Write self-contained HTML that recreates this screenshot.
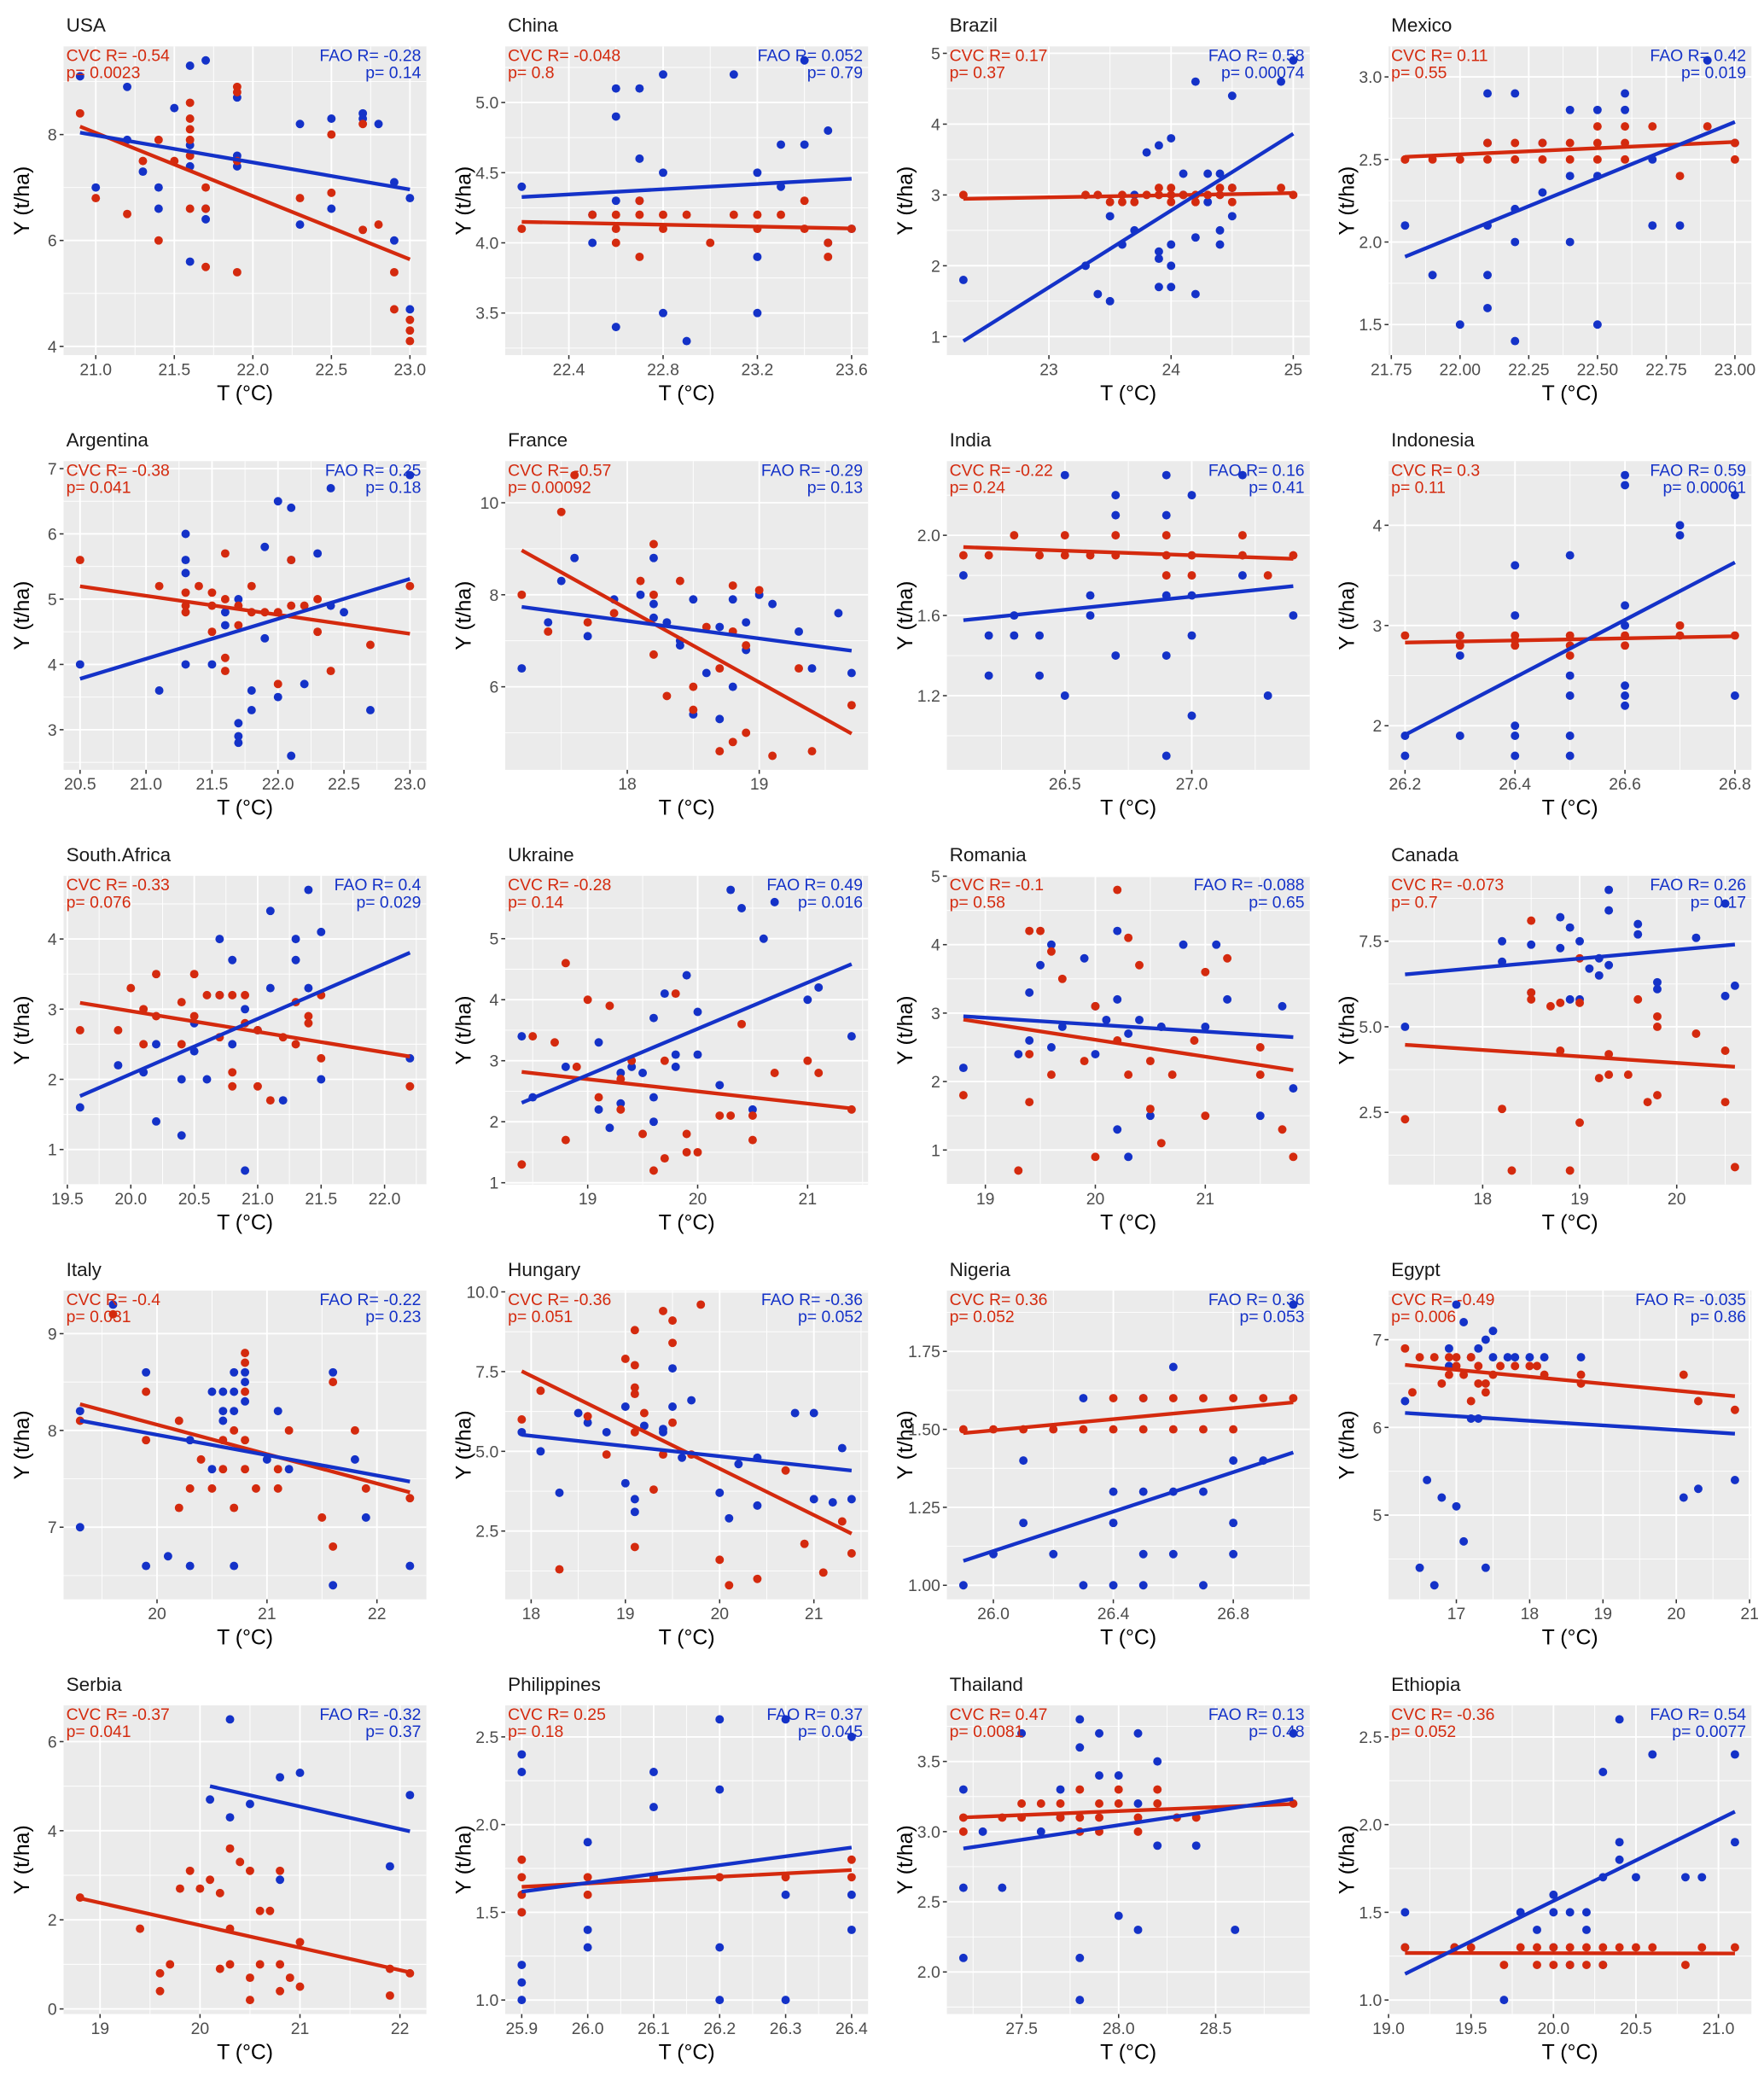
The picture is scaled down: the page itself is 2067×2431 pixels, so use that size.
<!DOCTYPE html>
<html><head><meta charset="utf-8">
<style>
html,body{margin:0;padding:0;background:#fff;}
svg{display:block;font-family:"Liberation Sans",Arial,sans-serif;}
</style></head>
<body>
<svg id="chart" width="2067" height="2431" viewBox="0 0 1332 1566" preserveAspectRatio="none" xmlns="http://www.w3.org/2000/svg"></svg>
<script>
const countries=["USA","China","Brazil","Mexico","Argentina","France","India","Indonesia","South.Africa","Ukraine","Romania","Canada","Italy","Hungary","Nigeria","Egypt","Serbia","Philippines","Thailand","Ethiopia"];
const cvcR=["-0.54","-0.048","0.17","0.11","-0.38","-0.57","-0.22","0.3","-0.33","-0.28","-0.1","-0.073","-0.4","-0.36","0.36","-0.49","-0.37","0.25","0.47","-0.36"];
const cvcP=["0.0023","0.8","0.37","0.55","0.041","0.00092","0.24","0.11","0.076","0.14","0.58","0.7","0.031","0.051","0.052","0.006","0.041","0.18","0.0081","0.052"];
const faoR=["-0.28","0.052","0.58","0.42","0.25","-0.29","0.16","0.59","0.4","0.49","-0.088","0.26","-0.22","-0.36","0.36","-0.035","-0.32","0.37","0.13","0.54"];
const faoP=["0.14","0.79","0.00074","0.019","0.18","0.13","0.41","0.00061","0.029","0.016","0.65","0.17","0.23","0.052","0.053","0.86","0.37","0.045","0.48","0.0077"];
const xTicks=[[21,21.5,22,22.5,23],[22.4,22.8,23.2,23.6],[23,24,25],[21.75,22,22.25,22.5,22.75,23],[20.5,21,21.5,22,22.5,23],[18,19],[26.5,27],[26.2,26.4,26.6,26.8],[19.5,20,20.5,21,21.5,22],[19,20,21],[19,20,21],[18,19,20],[20,21,22],[18,19,20,21],[26.0,26.4,26.8],[17,18,19,20,21],[19,20,21,22],[25.9,26.0,26.1,26.2,26.3,26.4],[27.5,28,28.5],[19,19.5,20,20.5,21]];
const xLabels=[["21.0","21.5","22.0","22.5","23.0"],["22.4","22.8","23.2","23.6"],["23","24","25"],["21.75","22.00","22.25","22.50","22.75","23.00"],["20.5","21.0","21.5","22.0","22.5","23.0"],["18","19"],["26.5","27.0"],["26.2","26.4","26.6","26.8"],["19.5","20.0","20.5","21.0","21.5","22.0"],["19","20","21"],["19","20","21"],["18","19","20"],["20","21","22"],["18","19","20","21"],["26.0","26.4","26.8"],["17","18","19","20","21"],["19","20","21","22"],["25.9","26.0","26.1","26.2","26.3","26.4"],["27.5","28.0","28.5"],["19.0","19.5","20.0","20.5","21.0"]];
const yTicks=[[4,6,8],[3.5,4,4.5,5],[1,2,3,4,5],[1.5,2,2.5,3],[3,4,5,6,7],[6,8,10],[1.2,1.6,2.0],[2,3,4],[1,2,3,4],[1,2,3,4,5],[1,2,3,4,5],[2.5,5,7.5],[7,8,9],[2.5,5,7.5,10],[1,1.25,1.5,1.75],[5,6,7],[0,2,4,6],[1,1.5,2,2.5],[2,2.5,3,3.5],[1,1.5,2,2.5]];
const yLabels=[["4","6","8"],["3.5","4.0","4.5","5.0"],["1","2","3","4","5"],["1.5","2.0","2.5","3.0"],["3","4","5","6","7"],["6","8","10"],["1.2","1.6","2.0"],["2","3","4"],["1","2","3","4"],["1","2","3","4","5"],["1","2","3","4","5"],["2.5","5.0","7.5"],["7","8","9"],["2.5","5.0","7.5","10.0"],["1.00","1.25","1.50","1.75"],["5","6","7"],["0","2","4","6"],["1.0","1.5","2.0","2.5"],["2.0","2.5","3.0","3.5"],["1.0","1.5","2.0","2.5"]];
const redPts=[
[[20.9,8.4],[21.0,6.8],[21.2,6.5],[21.3,7.5],[21.4,7.9],[21.4,6.0],[21.5,7.5],[21.6,8.6],[21.6,8.3],[21.6,8.1],[21.6,7.9],[21.6,7.6],[21.6,6.6],[21.7,7.0],[21.7,6.6],[21.7,5.5],[21.9,8.9],[21.9,5.4],[21.9,7.5],[22.3,6.8],[22.5,8.0],[22.5,6.9],[22.7,8.2],[22.7,6.2],[22.8,6.3],[22.9,5.4],[22.9,4.7],[23.0,4.1],[23.0,4.3],[23.0,4.5],[21.9,8.8]],
[[22.2,4.1],[22.5,4.2],[22.6,4.2],[22.6,4.1],[22.7,4.2],[22.7,3.9],[22.7,4.3],[22.8,4.2],[22.8,4.1],[22.9,4.2],[23.0,4.0],[23.2,4.2],[23.2,4.1],[23.3,4.2],[23.4,4.3],[23.4,4.1],[23.5,4.0],[23.5,3.9],[23.6,4.1],[22.6,4.0],[23.1,4.2]],
[[22.3,3.0],[23.3,3.0],[23.4,3.0],[23.5,2.9],[23.6,3.0],[23.7,2.9],[23.8,3.0],[23.9,3.0],[23.9,3.1],[24.0,2.9],[24.0,3.1],[24.1,3.0],[24.2,3.0],[24.2,2.9],[24.3,3.0],[24.4,3.1],[24.4,3.0],[24.5,2.9],[24.5,3.1],[24.9,3.1],[25.0,3.0],[24.0,3.0],[23.6,2.9]],
[[21.8,2.5],[21.9,2.5],[22.0,2.5],[22.1,2.6],[22.1,2.5],[22.2,2.6],[22.2,2.5],[22.3,2.6],[22.3,2.5],[22.4,2.6],[22.4,2.5],[22.5,2.7],[22.5,2.6],[22.5,2.5],[22.6,2.7],[22.6,2.6],[22.7,2.7],[22.8,2.4],[22.9,2.7],[23.0,2.6],[23.0,2.5],[21.8,2.5],[22.6,2.5]],
[[20.5,5.6],[21.1,5.2],[21.3,5.1],[21.3,4.9],[21.3,4.8],[21.4,5.2],[21.5,4.5],[21.5,5.1],[21.6,5.7],[21.6,5.0],[21.6,4.1],[21.6,3.9],[21.7,4.9],[21.7,4.6],[21.8,5.2],[21.8,4.8],[21.9,4.8],[22.0,3.7],[22.0,4.8],[22.1,5.6],[22.1,4.9],[22.2,4.9],[22.3,5.0],[22.3,4.5],[22.4,3.9],[22.7,4.3],[23.0,5.2],[21.5,4.9]],
[[17.2,8.0],[17.4,7.2],[17.5,9.8],[17.6,10.6],[17.7,7.4],[17.9,7.6],[18.1,8.3],[18.2,9.1],[18.2,8.0],[18.2,6.7],[18.3,5.8],[18.4,8.3],[18.5,6.0],[18.5,5.5],[18.6,7.3],[18.7,6.4],[18.7,4.6],[18.8,8.2],[18.8,7.2],[18.8,4.8],[18.9,6.9],[18.9,5.0],[19.0,8.1],[19.1,4.5],[19.3,6.4],[19.4,4.6],[19.7,5.6]],
[[26.1,1.9],[26.2,1.9],[26.3,2.0],[26.4,1.9],[26.5,2.0],[26.5,1.9],[26.6,1.9],[26.7,2.0],[26.7,1.9],[26.9,2.0],[26.9,1.9],[26.9,1.8],[27.0,1.9],[27.0,1.8],[27.2,2.0],[27.2,1.9],[27.3,1.8],[27.4,1.9]],
[[26.2,2.9],[26.3,2.9],[26.3,2.8],[26.4,2.9],[26.4,2.8],[26.5,2.9],[26.5,2.8],[26.5,2.7],[26.6,2.9],[26.6,2.8],[26.7,3.0],[26.7,2.9],[26.8,2.9],[26.4,2.85]],
[[19.6,2.7],[19.9,2.7],[20.0,3.3],[20.1,2.5],[20.1,3.0],[20.2,2.9],[20.2,3.5],[20.4,3.1],[20.4,2.5],[20.5,3.5],[20.6,3.2],[20.7,3.2],[20.7,2.6],[20.8,3.2],[20.8,2.1],[20.8,1.9],[20.9,3.2],[20.9,2.8],[21.0,2.7],[21.0,1.9],[21.1,1.7],[21.2,2.6],[21.3,3.1],[21.3,2.5],[21.4,2.9],[21.4,2.8],[21.5,3.2],[21.5,2.3],[22.2,1.9],[20.5,2.9]],
[[18.4,1.3],[18.5,3.4],[18.7,3.3],[18.8,4.6],[18.8,1.7],[18.9,2.9],[19.0,4.0],[19.1,2.4],[19.2,3.9],[19.3,2.7],[19.3,2.2],[19.4,3.0],[19.5,1.8],[19.6,1.2],[19.7,1.4],[19.7,3.0],[19.8,4.1],[19.9,1.8],[20.0,1.5],[20.2,2.1],[20.3,2.1],[20.4,3.6],[20.5,2.1],[20.5,1.7],[20.7,2.8],[21.0,3.0],[21.1,2.8],[21.4,2.2],[19.9,1.5]],
[[18.8,1.8],[19.3,0.7],[19.4,1.7],[19.4,4.2],[19.5,4.2],[19.6,3.9],[19.6,2.1],[19.7,3.5],[19.9,2.3],[20.0,0.9],[20.0,3.1],[20.2,4.8],[20.2,2.6],[20.3,4.1],[20.3,2.1],[20.4,3.7],[20.5,2.3],[20.5,1.6],[20.6,1.1],[20.7,2.1],[20.9,2.6],[21.0,3.6],[21.0,1.5],[21.2,3.8],[21.5,2.5],[21.5,2.1],[21.7,1.3],[21.8,0.9],[19.4,2.4]],
[[17.2,2.3],[18.2,2.6],[18.3,0.8],[18.5,8.1],[18.5,5.8],[18.7,5.6],[18.8,5.7],[18.8,4.3],[18.9,0.8],[19.0,2.2],[19.0,5.7],[19.2,3.5],[19.3,3.6],[19.3,4.2],[19.5,3.6],[19.6,5.8],[19.7,2.8],[19.8,5.3],[19.8,3.0],[19.8,5.0],[20.2,4.8],[20.5,4.3],[20.5,2.8],[20.6,0.9],[18.5,6.0],[19.0,7.0]],
[[19.3,8.1],[19.6,9.2],[19.9,8.4],[19.9,7.9],[20.2,8.1],[20.2,7.2],[20.3,7.4],[20.4,7.7],[20.5,7.4],[20.6,7.9],[20.6,7.6],[20.7,8.0],[20.7,7.2],[20.8,8.8],[20.8,8.7],[20.8,8.4],[20.8,7.9],[20.8,7.6],[20.9,7.4],[21.1,7.6],[21.1,7.4],[21.2,8.0],[21.5,7.1],[21.6,8.5],[21.6,6.8],[21.8,8.0],[22.3,7.3],[21.9,7.4]],
[[17.9,6.0],[18.1,6.9],[18.3,1.3],[18.6,6.1],[18.8,4.9],[19.0,7.9],[19.1,8.8],[19.1,7.7],[19.1,6.8],[19.1,5.6],[19.1,2.0],[19.2,6.2],[19.3,3.8],[19.4,4.9],[19.4,9.4],[19.5,9.1],[19.5,8.4],[19.5,5.9],[19.7,4.9],[19.8,9.6],[20.0,1.6],[20.1,0.8],[20.4,1.0],[20.7,4.4],[20.9,2.1],[21.1,1.2],[21.3,2.8],[21.4,1.8],[19.1,7.0]],
[[25.9,1.5],[26.0,1.5],[26.1,1.5],[26.2,1.5],[26.3,1.5],[26.4,1.6],[26.5,1.6],[26.5,1.5],[26.6,1.6],[26.7,1.6],[26.7,1.5],[26.8,1.6],[26.8,1.5],[26.9,1.6],[27.0,1.6],[26.4,1.5],[26.6,1.5]],
[[16.3,6.9],[16.4,6.4],[16.5,6.8],[16.7,6.8],[16.8,6.5],[16.9,6.8],[17.0,6.7],[17.0,6.8],[17.1,6.6],[17.2,6.3],[17.3,6.5],[17.3,6.7],[17.4,6.5],[17.4,6.4],[17.5,6.6],[17.6,6.7],[17.8,6.7],[18.0,6.7],[18.2,6.6],[18.7,6.6],[18.7,6.5],[20.1,6.6],[20.3,6.3],[20.8,6.2],[17.2,6.8],[18.1,6.7],[16.9,6.6]],
[[18.8,2.5],[19.4,1.8],[19.6,0.8],[19.6,0.4],[19.7,1.0],[19.8,2.7],[19.9,3.1],[20.0,2.7],[20.1,2.9],[20.2,2.6],[20.2,0.9],[20.3,3.6],[20.3,1.8],[20.3,1.0],[20.4,3.3],[20.5,3.1],[20.5,0.7],[20.5,0.2],[20.6,1.0],[20.6,2.2],[20.7,2.2],[20.8,0.4],[20.8,1.0],[20.8,3.1],[20.9,0.7],[21.0,0.5],[21.0,1.5],[21.9,0.3],[21.9,0.9],[22.1,0.8]],
[[25.9,1.8],[25.9,1.7],[25.9,1.6],[26.0,1.7],[26.0,1.6],[26.1,1.7],[26.2,1.7],[26.3,1.7],[26.4,1.8],[26.4,1.7],[25.9,1.5]],
[[27.2,3.1],[27.2,3.0],[27.4,3.1],[27.5,3.1],[27.5,3.2],[27.6,3.2],[27.7,3.1],[27.7,3.2],[27.8,3.3],[27.8,3.1],[27.8,3.0],[27.9,3.2],[27.9,3.1],[28.0,3.2],[28.0,3.3],[28.1,3.1],[28.1,3.0],[28.2,3.2],[28.2,3.3],[28.3,3.1],[28.4,3.1],[28.9,3.2],[27.9,3.0]],
[[19.1,1.3],[19.4,1.3],[19.5,1.3],[19.7,1.2],[19.8,1.3],[19.9,1.2],[19.9,1.3],[20.0,1.3],[20.0,1.2],[20.1,1.3],[20.1,1.2],[20.2,1.3],[20.2,1.2],[20.3,1.3],[20.4,1.3],[20.5,1.3],[20.6,1.3],[20.8,1.2],[20.9,1.3],[21.1,1.3],[20.3,1.2]]
];
const bluePts=[
[[20.9,9.1],[21.0,7.0],[21.2,8.9],[21.2,7.9],[21.3,7.3],[21.4,7.0],[21.4,6.6],[21.5,8.5],[21.6,9.3],[21.6,7.8],[21.6,7.4],[21.6,5.6],[21.7,9.4],[21.7,6.4],[21.7,6.6],[21.9,7.6],[21.9,7.4],[21.9,8.7],[22.3,8.2],[22.3,6.3],[22.5,8.3],[22.5,6.6],[22.7,8.4],[22.7,8.3],[22.8,8.2],[22.9,7.1],[22.9,6.0],[23.0,6.8],[23.0,4.7]],
[[22.2,4.4],[22.5,4.0],[22.6,5.1],[22.6,4.9],[22.6,4.3],[22.6,3.4],[22.7,5.1],[22.7,4.6],[22.8,5.2],[22.8,4.5],[22.8,3.5],[22.9,3.3],[23.1,5.2],[23.2,4.5],[23.2,3.9],[23.2,3.5],[23.3,4.7],[23.3,4.4],[23.4,4.7],[23.4,5.3],[23.5,4.8],[23.5,4.0],[23.6,4.1],[22.7,4.3],[22.5,4.2]],
[[22.3,1.8],[23.3,2.0],[23.4,1.6],[23.5,1.5],[23.5,2.7],[23.6,2.3],[23.7,3.0],[23.8,3.6],[23.9,3.7],[24.0,3.8],[23.9,2.2],[23.9,2.1],[24.0,1.7],[23.9,1.7],[24.0,2.3],[24.1,3.3],[24.1,3.0],[24.2,4.6],[24.2,2.4],[24.2,1.6],[24.3,3.3],[24.3,2.9],[24.4,3.3],[24.4,2.5],[24.4,2.3],[24.5,2.7],[24.5,4.4],[24.5,3.1],[24.9,4.6],[25.0,4.9],[24.0,2.0],[23.7,2.5]],
[[21.8,2.1],[21.9,1.8],[22.0,1.5],[22.1,2.9],[22.1,1.8],[22.1,1.6],[22.1,2.1],[22.2,2.9],[22.2,2.2],[22.2,1.4],[22.2,2.0],[22.3,2.6],[22.3,2.3],[22.4,2.8],[22.4,2.4],[22.4,2.0],[22.5,2.8],[22.5,2.4],[22.5,1.5],[22.6,2.9],[22.6,2.8],[22.7,2.5],[22.7,2.1],[22.8,2.1],[22.9,3.1],[23.0,2.6],[22.1,2.6]],
[[20.5,4.0],[21.1,3.6],[21.3,6.0],[21.3,5.6],[21.3,5.4],[21.3,4.0],[21.5,4.0],[21.6,4.8],[21.6,4.6],[21.7,3.1],[21.7,2.9],[21.7,2.8],[21.7,5.0],[21.8,3.6],[21.8,3.3],[21.9,4.4],[21.9,5.8],[22.0,6.5],[22.0,3.5],[22.1,5.6],[22.1,6.4],[22.1,2.6],[22.2,3.7],[22.3,5.7],[22.4,4.9],[22.4,6.7],[22.5,4.8],[22.7,3.3],[23.0,6.9]],
[[17.2,6.4],[17.4,7.4],[17.5,8.3],[17.6,8.8],[17.7,7.1],[17.9,7.9],[18.1,8.0],[18.2,8.8],[18.2,7.8],[18.2,7.5],[18.3,7.4],[18.4,7.0],[18.4,6.9],[18.5,7.9],[18.5,5.4],[18.6,6.3],[18.7,7.3],[18.7,5.3],[18.8,7.9],[18.8,6.0],[18.9,7.4],[18.9,6.8],[19.0,8.0],[19.1,7.8],[19.3,7.2],[19.4,6.4],[19.6,7.6],[19.7,6.3]],
[[26.1,1.8],[26.2,1.5],[26.2,1.3],[26.3,1.6],[26.3,1.5],[26.4,1.5],[26.4,1.3],[26.5,2.3],[26.5,1.2],[26.6,1.7],[26.6,1.6],[26.7,2.2],[26.7,2.1],[26.7,1.4],[26.9,2.3],[26.9,2.1],[26.9,1.7],[26.9,1.4],[26.9,0.9],[27.0,2.2],[27.0,1.7],[27.0,1.5],[27.0,1.1],[27.2,2.3],[27.2,1.8],[27.3,1.2],[27.4,1.6]],
[[26.2,1.9],[26.2,1.7],[26.3,2.9],[26.3,2.7],[26.3,1.9],[26.4,3.6],[26.4,3.1],[26.4,2.0],[26.4,1.9],[26.4,1.7],[26.5,3.7],[26.5,2.5],[26.5,2.3],[26.5,1.9],[26.5,1.7],[26.6,4.5],[26.6,4.4],[26.6,3.2],[26.6,3.0],[26.6,2.4],[26.6,2.3],[26.6,2.2],[26.7,4.0],[26.7,3.9],[26.8,4.3],[26.8,2.3]],
[[19.6,1.6],[19.9,2.2],[20.1,2.1],[20.2,1.4],[20.4,2.0],[20.4,1.2],[20.5,2.4],[20.6,2.0],[20.7,4.0],[20.7,3.2],[20.8,3.7],[20.8,2.5],[20.9,3.0],[20.9,0.7],[21.0,2.7],[21.1,4.4],[21.1,3.3],[21.2,1.7],[21.3,4.0],[21.3,3.7],[21.4,4.7],[21.4,3.3],[21.5,4.1],[21.5,2.0],[22.2,2.3],[20.2,2.5],[20.5,2.8]],
[[18.4,3.4],[18.5,2.4],[18.8,2.9],[19.1,3.3],[19.1,2.2],[19.2,1.9],[19.3,2.3],[19.3,2.8],[19.4,2.9],[19.5,2.8],[19.6,2.4],[19.6,3.7],[19.7,4.1],[19.8,2.9],[19.9,4.4],[20.0,3.1],[20.2,2.6],[20.3,5.8],[20.4,5.5],[20.5,2.2],[20.6,5.0],[20.7,5.6],[21.0,4.0],[21.1,4.2],[21.4,3.4],[19.6,2.0],[19.8,3.1],[20.0,3.8]],
[[18.8,2.2],[19.3,2.4],[19.4,2.6],[19.4,3.3],[19.5,3.7],[19.6,4.0],[19.6,2.5],[19.7,2.8],[19.9,3.8],[20.0,2.4],[20.0,3.1],[20.1,2.9],[20.2,3.2],[20.2,4.2],[20.2,1.3],[20.3,2.7],[20.3,0.9],[20.4,2.9],[20.5,1.5],[20.6,2.8],[20.6,2.8],[20.8,4.0],[21.0,2.8],[21.1,4.0],[21.2,3.2],[21.5,1.5],[21.7,3.1],[21.8,1.9]],
[[17.2,5.0],[18.2,6.9],[18.5,7.4],[18.5,6.0],[18.8,8.2],[18.8,7.3],[18.9,5.8],[18.9,7.9],[19.0,7.5],[19.0,5.8],[19.1,6.7],[19.2,7.0],[19.2,6.5],[19.3,8.4],[19.3,6.8],[19.3,9.0],[19.6,8.0],[19.6,7.7],[19.8,6.1],[19.8,6.3],[20.2,7.6],[20.5,5.9],[20.5,8.6],[20.6,6.2],[18.2,7.5]],
[[19.3,8.2],[19.3,7.0],[19.6,9.3],[19.9,8.6],[19.9,6.6],[20.1,6.7],[20.3,6.6],[20.3,7.9],[20.5,8.4],[20.5,7.6],[20.6,8.4],[20.6,8.2],[20.6,8.1],[20.7,8.4],[20.7,8.2],[20.7,6.6],[20.7,8.6],[20.8,8.6],[20.8,8.5],[20.8,8.3],[21.0,7.7],[21.1,8.2],[21.2,7.6],[21.6,8.6],[21.6,6.4],[21.8,7.7],[21.9,7.1],[22.3,6.6]],
[[17.9,5.6],[18.1,5.0],[18.3,3.7],[18.5,6.2],[18.6,5.9],[18.8,5.6],[19.0,4.0],[19.0,6.4],[19.1,3.1],[19.1,3.5],[19.2,5.8],[19.4,5.6],[19.4,5.7],[19.5,7.6],[19.5,6.4],[19.7,6.6],[20.0,3.7],[20.1,2.9],[20.2,4.6],[20.4,3.3],[20.4,4.8],[20.8,6.2],[21.0,6.2],[21.0,3.5],[21.2,3.4],[21.3,5.1],[21.4,3.5],[19.6,4.8]],
[[25.9,1.0],[26.0,1.1],[26.1,1.4],[26.1,1.2],[26.2,1.1],[26.3,1.6],[26.4,1.3],[26.4,1.2],[26.4,1.0],[26.5,1.6],[26.5,1.3],[26.5,1.1],[26.5,1.0],[26.6,1.7],[26.6,1.3],[26.6,1.1],[26.7,1.3],[26.7,1.0],[26.8,1.4],[26.8,1.2],[26.8,1.1],[26.9,1.4],[27.0,1.9],[26.3,1.0]],
[[16.3,6.3],[16.5,4.4],[16.6,5.4],[16.7,4.2],[16.8,5.2],[16.9,6.9],[16.9,6.7],[17.0,5.1],[17.0,7.4],[17.1,4.7],[17.1,7.2],[17.2,6.8],[17.2,6.1],[17.3,6.1],[17.4,7.0],[17.4,4.4],[17.5,7.1],[17.5,6.8],[17.7,6.8],[17.8,6.8],[18.0,6.8],[18.2,6.8],[18.7,6.8],[20.1,5.2],[20.3,5.3],[20.8,5.4],[17.3,6.9]],
[[20.1,4.7],[20.3,6.5],[20.3,4.3],[20.5,4.6],[20.8,5.2],[20.8,2.9],[21.0,5.3],[21.9,3.2],[22.1,4.8]],
[[25.9,2.4],[25.9,2.3],[25.9,1.5],[25.9,1.2],[25.9,1.1],[25.9,1.0],[26.0,1.9],[26.0,1.4],[26.0,1.3],[26.1,2.3],[26.1,2.1],[26.1,1.7],[26.2,2.6],[26.2,2.2],[26.2,1.3],[26.2,1.0],[26.3,2.6],[26.3,1.0],[26.3,1.6],[26.4,2.5],[26.4,1.6],[26.4,1.4]],
[[27.2,3.3],[27.2,2.6],[27.2,2.1],[27.4,2.6],[27.5,3.7],[27.6,3.0],[27.7,3.3],[27.7,3.1],[27.8,3.8],[27.8,3.6],[27.8,2.1],[27.8,1.8],[27.9,3.7],[27.9,3.4],[28.0,3.4],[28.0,2.4],[28.1,3.7],[28.1,3.2],[28.1,2.3],[28.2,3.5],[28.2,2.9],[28.4,2.9],[28.6,2.3],[28.9,3.7],[27.3,3.0]],
[[19.1,1.5],[19.1,1.3],[19.4,1.3],[19.7,1.0],[19.8,1.5],[19.9,1.4],[20.0,1.6],[20.0,1.5],[20.0,1.3],[20.1,1.5],[20.1,1.2],[20.2,1.4],[20.2,1.5],[20.3,2.3],[20.3,1.7],[20.3,1.2],[20.4,2.6],[20.4,1.8],[20.4,1.9],[20.5,1.7],[20.6,2.4],[20.8,1.7],[20.9,1.7],[21.1,2.4],[21.1,1.9]]
];

const NS="http://www.w3.org/2000/svg";
const svg=document.getElementById('chart');
const RED="#d42a0e", BLUE="#1432c8";
function mk(tag,attrs,parent){const e=document.createElementNS(NS,tag);for(const k in attrs)e.setAttribute(k,attrs[k]);(parent||svg).appendChild(e);return e;}
function fit(p){const n=p.length;let sx=0,sy=0,sxx=0,sxy=0;p.forEach(([x,y])=>{sx+=x;sy+=y;sxx+=x*x;sxy+=x*y;});const b=(n*sxy-sx*sy)/(n*sxx-sx*sx);const a=(sy-b*sx)/n;const xs=p.map(q=>q[0]);return {a,b,x0:Math.min(...xs),x1:Math.max(...xs)};}

countries.forEach((name,i)=>{
  const col=i%4,row=Math.floor(i/4);
  const cx=col*333.5,L=cx+48,W=274,T=35+row*313,H=233;
  const g=mk('g',{});
  
  
  const all=redPts[i].concat(bluePts[i]);
  const rf=fit(redPts[i]),bf=fit(bluePts[i]);
  const xs=all.map(p=>p[0]),ys=all.map(p=>p[1]);
  [rf,bf].forEach(f=>{ys.push(f.a+f.b*f.x0,f.a+f.b*f.x1);});
  let xmin=Math.min(...xs),xmax=Math.max(...xs),ymin=Math.min(...ys),ymax=Math.max(...ys);
  const ex=(xmax-xmin)*0.05,ey=(ymax-ymin)*0.05;xmin-=ex;xmax+=ex;ymin-=ey;ymax+=ey;
  const X=v=>L+(v-xmin)/(xmax-xmin)*W, Y=v=>T+H-(v-ymin)/(ymax-ymin)*H;
  const bg=mk('rect',{x:L,y:T,width:W,height:H,fill:'#ebebeb'},g);
  
  
  const xt=xTicks[i],yt=yTicks[i];
  const xs2=xt[1]-xt[0],ys2=yt[1]-yt[0];
  for(let v=xt[0]-xs2/2;v<=xmax;v+=xs2){if(v>=xmin)mk('line',{x1:X(v),x2:X(v),y1:T,y2:T+H,stroke:'#fff','stroke-width':0.6},g);}
  for(let v=yt[0]-ys2/2;v<=ymax;v+=ys2){if(v>=ymin)mk('line',{x1:L,x2:L+W,y1:Y(v),y2:Y(v),stroke:'#fff','stroke-width':0.6},g);}
  xt.forEach((v,k)=>{const px=X(v);
    mk('line',{x1:px,x2:px,y1:T,y2:T+H,stroke:'#fff','stroke-width':1.2},g);
    mk('line',{x1:px,x2:px,y1:T+H,y2:T+H+3,stroke:'#333','stroke-width':1},g);
    const t=mk('text',{x:px,y:T+H+15,'text-anchor':'middle','font-size':12.5,fill:'#4d4d4d'},g);t.textContent=xLabels[i][k];
    
    });
  yt.forEach((v,k)=>{const py=Y(v);
    mk('line',{x1:L,x2:L+W,y1:py,y2:py,stroke:'#fff','stroke-width':1.2},g);
    mk('line',{x1:L-3,x2:L,y1:py,y2:py,stroke:'#333','stroke-width':1},g);
    const t=mk('text',{x:L-5,y:py+4.5,'text-anchor':'end','font-size':12.5,fill:'#4d4d4d'},g);t.textContent=yLabels[i][k];
    
    });
  [[bluePts[i],BLUE,'fao'],[redPts[i],RED,'cvc']].forEach(([pts,c,nm])=>{
    pts.forEach(p=>{const e=mk('circle',{cx:X(p[0]),cy:Y(p[1]),r:3.2,fill:c},g);
      
      });
  });
  [[rf,RED,'cvc'],[bf,BLUE,'fao']].forEach(([f,c,nm])=>{
    const e=mk('line',{x1:X(f.x0),y1:Y(f.a+f.b*f.x0),x2:X(f.x1),y2:Y(f.a+f.b*f.x1),stroke:c,'stroke-width':2.8},g);
    
    });
  const a1=mk('text',{x:L+2,y:T+11,'font-size':12.5,fill:RED},g);a1.textContent='CVC R= '+cvcR[i];
  
  
  const a2=mk('text',{x:L+2,y:T+24,'font-size':12.5,fill:RED},g);a2.textContent='p= '+cvcP[i];
  
  
  const a3=mk('text',{x:L+W-4,y:T+11,'font-size':12.5,fill:BLUE,'text-anchor':'end'},g);a3.textContent='FAO R= '+faoR[i];
  
  
  const a4=mk('text',{x:L+W-4,y:T+24,'font-size':12.5,fill:BLUE,'text-anchor':'end'},g);a4.textContent='p= '+faoP[i];
  
  
  const tt=mk('text',{x:L+2,y:T-11,'font-size':14.5,fill:'#1a1a1a'},g);tt.textContent=name;
  
  
  const xl=mk('text',{x:L+W/2,y:T+H+34,'font-size':16,'text-anchor':'middle',fill:'#000'},g);xl.textContent='T (°C)';
  
  
  const yl=mk('text',{x:0,y:0,'font-size':16,'text-anchor':'middle',fill:'#000',transform:`translate(${cx+22},${T+H/2}) rotate(-90)`},g);yl.textContent='Y (t/ha)';
  
  
});
</script>
</body></html>
